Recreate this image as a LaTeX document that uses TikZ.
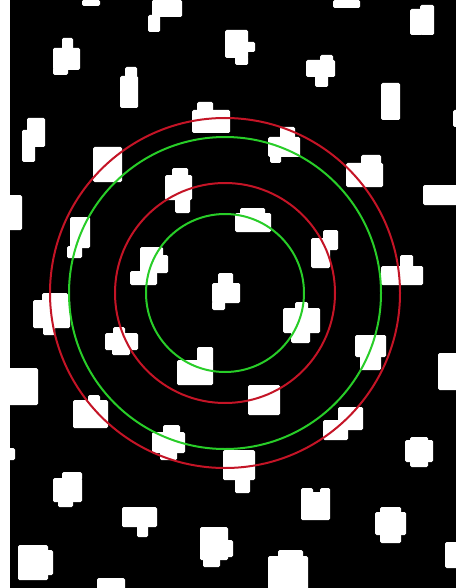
\documentclass[tikz,border=0pt]{standalone}
\definecolor{ringred}{RGB}{196,20,38}
\definecolor{ringgreen}{RGB}{40,205,40}
\begin{document}
\begin{tikzpicture}[x=1pt,y=-1pt,
  blob/.style={fill=white,rounded corners=1.5pt},
  redring/.style={draw=ringred,line width=2pt},
  greenring/.style={draw=ringgreen,line width=2pt}]
\useasboundingbox (0,0) rectangle (456,588);
\fill[white] (0,0) rectangle (456,588);
\fill[black] (10,0) rectangle (456,588);
% blobs
\fill[blob] (82,0) rectangle (100,6);
\fill[blob] (152,0) rectangle (182,17);
\fill[blob] (148,15) rectangle (160,32);
\fill[blob] (62,38) rectangle (73,50);
\fill[blob] (53,48) rectangle (80,70);
\fill[blob] (53,68) rectangle (68,75);
\fill[blob] (125,67) rectangle (137,78);
\fill[blob] (120,76) rectangle (138,108);
\fill[blob] (27,118) rectangle (45,147);
\fill[blob] (22,130) rectangle (35,162);
\fill[blob] (225,30) rectangle (248,58);
\fill[blob] (246,42) rectangle (255,52);
\fill[blob] (235,56) rectangle (248,65);
\fill[blob] (197,102) rectangle (213,112);
\fill[blob] (192,110) rectangle (230,133);
\fill[blob] (93,147) rectangle (122,182);
\fill[blob] (172,168) rectangle (188,177);
\fill[blob] (165,175) rectangle (192,200);
\fill[blob] (175,198) rectangle (190,213);
\fill[blob] (333,0) rectangle (360,8);
\fill[blob] (420,5) rectangle (434,35);
\fill[blob] (410,9) rectangle (422,35);
\fill[blob] (320,55) rectangle (333,62);
\fill[blob] (306,60) rectangle (335,77);
\fill[blob] (315,75) rectangle (328,87);
\fill[blob] (381,83) rectangle (400,120);
\fill[blob] (453,110) rectangle (458,127);
\fill[blob] (280,127) rectangle (295,139);
\fill[blob] (268,137) rectangle (300,157);
\fill[blob] (270,155) rectangle (281,163);
\fill[blob] (361,155) rectangle (381,165);
\fill[blob] (346,163) rectangle (383,187);
\fill[blob] (423,185) rectangle (458,205);
\fill[blob] (8,195) rectangle (22,230);
\fill[blob] (70,217) rectangle (90,248);
\fill[blob] (67,246) rectangle (82,258);
\fill[blob] (140,247) rectangle (163,262);
\fill[blob] (140,255) rectangle (168,273);
\fill[blob] (130,271) rectangle (157,285);
\fill[blob] (218,273) rectangle (233,285);
\fill[blob] (212,283) rectangle (240,303);
\fill[blob] (212,301) rectangle (225,310);
\fill[blob] (42,293) rectangle (68,302);
\fill[blob] (33,300) rectangle (70,328);
\fill[blob] (43,326) rectangle (55,335);
\fill[blob] (113,327) rectangle (125,335);
\fill[blob] (105,333) rectangle (138,350);
\fill[blob] (112,348) rectangle (130,355);
\fill[blob] (197,347) rectangle (213,362);
\fill[blob] (177,360) rectangle (213,385);
\fill[blob] (8,368) rectangle (38,405);
\fill[blob] (88,395) rectangle (100,402);
\fill[blob] (73,400) rectangle (108,428);
\fill[blob] (240,208) rectangle (265,215);
\fill[blob] (235,213) rectangle (271,232);
\fill[blob] (323,230) rectangle (338,250);
\fill[blob] (311,238) rectangle (330,268);
\fill[blob] (400,255) rectangle (413,268);
\fill[blob] (381,266) rectangle (423,285);
\fill[blob] (295,302) rectangle (308,310);
\fill[blob] (283,308) rectangle (320,333);
\fill[blob] (291,331) rectangle (310,343);
\fill[blob] (355,335) rectangle (386,357);
\fill[blob] (360,355) rectangle (381,370);
\fill[blob] (438,353) rectangle (458,390);
\fill[blob] (248,385) rectangle (280,415);
\fill[blob] (8,448) rectangle (15,460);
\fill[blob] (163,425) rectangle (180,433);
\fill[blob] (152,432) rectangle (185,453);
\fill[blob] (160,451) rectangle (177,460);
\fill[blob] (223,450) rectangle (255,480);
\fill[blob] (235,478) rectangle (250,493);
\fill[blob] (62,472) rectangle (82,480);
\fill[blob] (53,478) rectangle (82,502);
\fill[blob] (58,500) rectangle (73,507);
\fill[blob] (122,507) rectangle (157,527);
\fill[blob] (137,525) rectangle (148,537);
\fill[blob] (200,527) rectangle (228,560);
\fill[blob] (226,540) rectangle (233,557);
\fill[blob] (203,558) rectangle (220,567);
\fill[blob] (18,545) rectangle (48,580);
\fill[blob] (46,550) rectangle (53,575);
\fill[blob] (97,578) rectangle (125,590);
\fill[blob] (338,407) rectangle (363,430);
\fill[blob] (323,420) rectangle (348,440);
\fill[blob] (405,440) rectangle (433,462);
\fill[blob] (410,437) rectangle (428,467);
\fill[blob] (301,492) rectangle (330,520);
\fill[blob] (301,488) rectangle (313,495);
\fill[blob] (320,488) rectangle (330,495);
\fill[blob] (380,507) rectangle (401,543);
\fill[blob] (375,512) rectangle (406,535);
\fill[blob] (278,550) rectangle (303,558);
\fill[blob] (268,556) rectangle (308,590);
\fill[blob] (445,542) rectangle (458,568);
% rings
\coordinate (c) at (225,293);
\draw[redring] (c) circle[radius=175];
\draw[greenring] (c) circle[radius=156];
\draw[redring] (c) circle[radius=110];
\draw[greenring] (c) circle[radius=79];
\end{tikzpicture}
\end{document}
